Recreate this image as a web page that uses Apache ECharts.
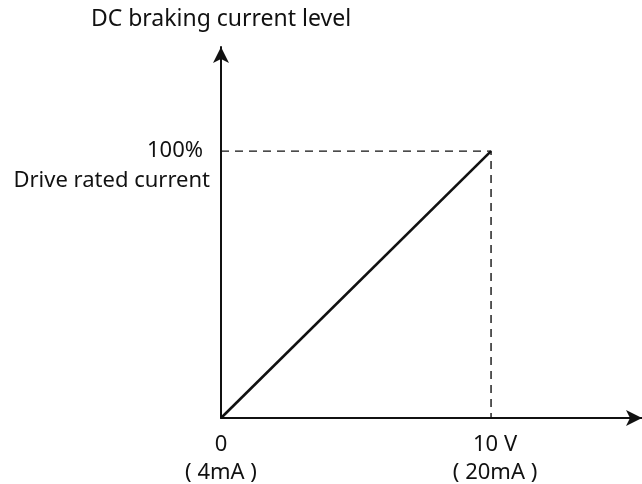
<!DOCTYPE html>
<html>
<head>
<meta charset="utf-8">
<script src="https://cdn.jsdelivr.net/npm/echarts@6/dist/echarts.min.js"></script>
<style>
  html, body { margin: 0; padding: 0; background: #fff; }
  #chart { width: 642px; height: 484px; }
</style>
</head>
<body>
<div id="chart"></div>
<script>
// Input signal (V) vs. DC braking current level (%)
const inputVolts = [0, 10];
const brakingLevel = [0, 100];
const xTickLabels = { 0: ['0', '( 4mA )'], 10: ['10 V', '( 20mA )'] };
const yTickLabels = { 100: ['100%', 'Drive rated current'] };
const yAxisTitle = 'DC braking current level';

const FONT = '"Noto Sans", "Open Sans", sans-serif';
const INK = '#111';
const FS = 22;

const chart = echarts.init(document.getElementById('chart'), null, { renderer: 'canvas' });

const curve = inputVolts.map((v, i) => [v, brakingLevel[i]]);
const guide = [
  [inputVolts[0], brakingLevel[1]],
  [inputVolts[1], brakingLevel[1]],
  [inputVolts[1], brakingLevel[0]]
];

chart.setOption({
  animation: false,
  backgroundColor: '#fff',
  grid: { left: 221, right: 0, top: 47, bottom: 66, containLabel: false, outerBoundsMode: 'none' },
  xAxis: {
    type: 'value',
    min: 0,
    max: 15.59,
    interval: 10,
    axisLine: {
      show: true,
      symbol: ['none', 'arrow'],
      symbolSize: [12, 16],
      lineStyle: { color: INK, width: 2 }
    },
    axisTick: { show: false },
    splitLine: { show: false },
    axisLabel: {
      showMaxLabel: false,
      margin: 13,
      color: INK,
      fontFamily: FONT,
      fontSize: FS,
      lineHeight: 28,
      formatter: v => {
        const t = xTickLabels[v];
        if (!t) return '';
        return v === 0 ? t.join('\n') : '{s|' + t[0] + '}\n{s|' + t[1] + '}';
      },
      rich: {
        s: { fontFamily: FONT, fontSize: FS, lineHeight: 28, color: INK, padding: [0, 0, 0, 8] }
      }
    }
  },
  yAxis: {
    type: 'value',
    min: 0,
    max: 139,
    interval: 100,
    name: yAxisTitle,
    nameLocation: 'end',
    nameGap: 16,
    nameTextStyle: { color: INK, fontFamily: FONT, fontSize: 23, align: 'center' },
    axisLine: {
      show: true,
      symbol: ['none', 'arrow'],
      symbolSize: [12, 16],
      lineStyle: { color: INK, width: 2 }
    },
    axisTick: { show: false },
    splitLine: { show: false },
    axisLabel: {
      showMinLabel: false,
      showMaxLabel: false,
      margin: 11,
      align: 'right',
      verticalAlign: 'middle',
      padding: [30, 0, 0, 0],
      color: INK,
      fontFamily: FONT,
      fontSize: FS,
      formatter: v => {
        const t = yTickLabels[v];
        return t ? '{a|' + t[0] + '}\n{b|' + t[1] + '}' : '';
      },
      rich: {
        a: { fontFamily: FONT, fontSize: FS, lineHeight: 30, color: INK, padding: [0, 7, 0, 0] },
        b: { fontFamily: FONT, fontSize: FS, lineHeight: 30, color: INK }
      }
    }
  },
  series: [
    {
      name: 'guide',
      type: 'line',
      data: guide,
      symbol: 'none',
      lineStyle: { color: INK, width: 1.4, type: [8, 6] },
      z: 1
    },
    {
      name: 'level',
      type: 'line',
      data: curve,
      symbol: 'none',
      lineStyle: { color: INK, width: 2.6 },
      z: 3
    }
  ]
});
</script>
</body>
</html>
